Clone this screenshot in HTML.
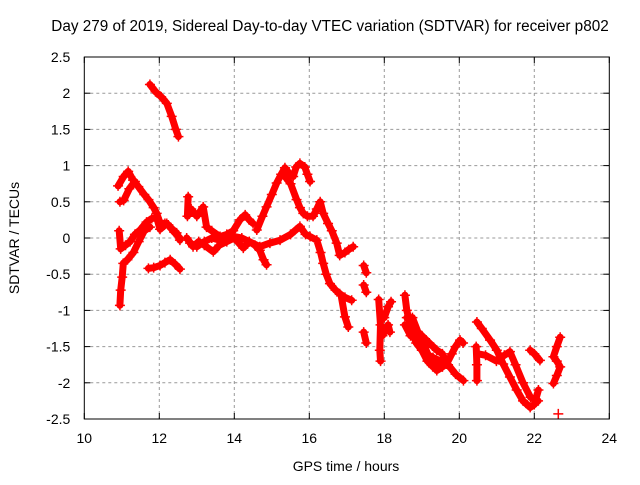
<!DOCTYPE html>
<html><head><meta charset="utf-8"><style>
body{margin:0;background:#fff;}
svg text{font-family:"Liberation Sans",sans-serif;font-size:14px;fill:#000;}
</style></head><body>
<svg id="chart" width="640" height="480" viewBox="0 0 640 480" xmlns="http://www.w3.org/2000/svg">
<rect width="640" height="480" fill="#fff"/>
<text x="330" y="31" text-anchor="middle" style="font-size:15.3px">Day 279 of 2019, Sidereal Day-to-day VTEC variation (SDTVAR) for receiver p802</text>
<g id="grid"></g><g id="marks"></g>
<rect x="84.3" y="57" width="525" height="362" fill="none" stroke="#000" stroke-width="1"/>
<g id="axes"></g>
<text x="346" y="471" text-anchor="middle">GPS time / hours</text>
<text transform="translate(19,238) rotate(-90)" text-anchor="middle">SDTVAR / TECUs</text>
</svg>
<script>
const xTicks=[10,12,14,16,18,20,22,24];
const yTicks=[2.5,2,1.5,1,0.5,0,-0.5,-1,-1.5,-2,-2.5];
const trackA=[[11.75,2.12],[11.9,2.02],[12.05,1.95],[12.2,1.86],[12.33,1.68],[12.44,1.5],[12.51,1.4]];
const trackB1=[[10.9,0.72],[11.05,0.85],[11.17,0.92],[11.3,0.8],[11.44,0.71],[11.6,0.6],[11.71,0.53],[11.85,0.42],[11.93,0.34],[12.02,0.21],[12.15,0.2],[12.24,0.18],[12.4,0.08],[12.55,0.0]];
const trackB2=[[10.95,0.5],[11.05,0.52],[11.2,0.68],[11.35,0.78]];
const trackC=[[10.93,0.1],[10.97,-0.15],[11.1,-0.1],[11.22,-0.05],[11.35,0.05],[11.49,0.11],[11.66,0.22],[11.8,0.27],[11.93,0.28],[12.02,0.12],[12.2,0.2],[12.35,0.12],[12.46,0.07],[12.55,-0.03]];
const trackC2=[[10.95,-0.93],[10.97,-0.72],[11.01,-0.54],[11.04,-0.35],[11.15,-0.3],[11.31,-0.2],[11.45,-0.05],[11.6,0.1],[11.75,0.15]];
const trackD=[[11.71,-0.42],[11.85,-0.41],[12.02,-0.38],[12.15,-0.34],[12.29,-0.3],[12.42,-0.36],[12.55,-0.43]];
const trackE=[[12.77,0.57],[12.75,0.3],[12.85,0.4],[13.0,0.3],[13.17,0.43],[13.26,0.15],[13.4,0.1],[13.62,0.02],[13.8,0.05],[13.97,0.1],[14.15,0.25],[14.29,0.32],[14.4,0.25],[14.5,0.2]];
const trackE2=[[12.73,0.0],[12.9,-0.12],[13.05,-0.05],[13.2,-0.1],[13.44,-0.19],[13.6,-0.1],[13.8,-0.05],[14.0,0.0],[14.24,-0.14],[14.4,-0.05],[14.55,-0.1],[14.68,-0.17],[14.78,-0.3],[14.86,-0.37]];
const trackF=[[14.6,0.11],[14.75,0.3],[14.86,0.43],[15.0,0.6],[15.13,0.76],[15.25,0.88],[15.35,0.97],[15.45,0.9],[15.57,0.85],[15.65,0.98],[15.75,1.03],[15.88,0.98],[15.95,0.88],[16.02,0.78]];
const trackF2=[[15.35,0.85],[15.5,0.75],[15.66,0.53],[15.75,0.42],[15.84,0.34],[15.95,0.3],[16.1,0.3],[16.2,0.4],[16.29,0.5],[16.37,0.34],[16.5,0.2],[16.6,0.1],[16.73,-0.07],[16.81,-0.24],[16.95,-0.2],[17.05,-0.16],[17.17,-0.12]];
const trackG=[[12.82,-0.07],[13.0,-0.12],[13.2,-0.05],[13.4,0.0],[13.62,-0.03],[13.8,0.0],[14.0,0.02],[14.2,0.0],[14.4,-0.05],[14.68,-0.12],[14.95,-0.07],[15.22,-0.03],[15.5,0.05],[15.75,0.16],[15.9,0.05],[16.02,0.02],[16.2,-0.03],[16.3,-0.2],[16.37,-0.35],[16.45,-0.5],[16.55,-0.63],[16.7,-0.72],[16.81,-0.77],[16.95,-0.82],[17.13,-0.86]];
const trackG2=[[16.85,-0.8],[16.95,-1.09],[17.04,-1.23]];
const trackH1=[[17.45,-0.38],[17.52,-0.48]];
const trackH2=[[17.45,-0.65],[17.52,-0.75]];
const trackH3=[[17.45,-1.3],[17.52,-1.45]];
const trackI1=[[17.85,-0.85],[17.9,-1.2],[17.88,-1.55],[17.9,-1.7]];
const trackI2=[[18.0,-1.1],[18.1,-0.95],[18.18,-0.88]];
const trackI3=[[17.95,-1.35],[18.1,-1.2],[18.15,-1.3]];
const trackJ=[[18.55,-0.79],[18.6,-1.0],[18.68,-1.18],[18.85,-1.3],[19.04,-1.46],[19.2,-1.65],[19.4,-1.83],[19.55,-1.78],[19.66,-1.74],[19.8,-1.6],[19.9,-1.5],[20.02,-1.41],[20.1,-1.45]];
const trackJ2=[[18.55,-1.2],[18.7,-1.35],[18.9,-1.4],[19.1,-1.6],[19.3,-1.65],[19.5,-1.7],[19.7,-1.75],[19.9,-1.88],[20.11,-1.97]];
const trackJ3=[[18.6,-1.1],[18.75,-1.1],[18.9,-1.3],[19.0,-1.35],[19.2,-1.45],[19.4,-1.55],[19.55,-1.6]];
const trackJ4=[[18.7,-1.25],[18.85,-1.45],[19.0,-1.55],[19.15,-1.7],[19.3,-1.78],[19.45,-1.72],[19.6,-1.65]];
const trackK=[[20.47,-1.16],[20.6,-1.25],[20.82,-1.41],[21.0,-1.55],[21.17,-1.74],[21.35,-1.92],[21.53,-2.1],[21.7,-2.25],[21.89,-2.34],[22.0,-2.3],[22.11,-2.1]];
const trackK2=[[20.45,-1.5],[20.47,-1.75],[20.47,-1.97]];
const trackK3=[[20.5,-1.6],[20.7,-1.62],[20.99,-1.7],[21.2,-1.62],[21.35,-1.57],[21.5,-1.75],[21.7,-2.0],[21.9,-2.2],[22.1,-2.25]];
const trackL=[[21.89,-1.55],[22.0,-1.6],[22.15,-1.69]];
const trackM=[[22.69,-1.37],[22.6,-1.5],[22.51,-1.64],[22.6,-1.7],[22.69,-1.78],[22.6,-1.9],[22.51,-2.01]];
const trackN=[[22.64,-2.43]];
const tracks=[trackA,trackB1,trackB2,trackC,trackC2,trackD,trackE,trackE2,trackF,trackF2,trackG,trackG2,trackH1,trackH2,trackH3,trackI1,trackI2,trackI3,trackJ,trackJ2,trackJ3,trackJ4,trackK,trackK2,trackK3,trackL,trackM,trackN];

const NS="http://www.w3.org/2000/svg";
const X0=84.3,X1=609.3,Y0=419,Y1=57;
function sx(t){return X0+(t-10)/(24-10)*(X1-X0);}
function sy(v){return Y0-(v+2.5)/5*(Y0-Y1);}
const grid=document.getElementById('grid'),axes=document.getElementById('axes'),marks=document.getElementById('marks');
function mk(tag,attrs,parent){const e=document.createElementNS(NS,tag);for(const k in attrs)e.setAttribute(k,attrs[k]);parent.appendChild(e);return e;}
xTicks.forEach(t=>{
  const x=sx(t);
  if(t>10&&t<24){const g=mk('line',{x1:x,x2:x,y1:Y1,y2:Y0,stroke:'#999','stroke-dasharray':'3,3'},grid);
  
  }
  mk('line',{x1:x,x2:x,y1:Y0,y2:Y0-6,stroke:'#000'},axes);
  mk('line',{x1:x,x2:x,y1:Y1,y2:Y1+6,stroke:'#000'},axes);
  const l=mk('text',{x:x,y:Y0+24,'text-anchor':'middle'},axes);l.textContent=t;
  
  
});
yTicks.forEach(v=>{
  const y=sy(v);
  if(v>-2.5&&v<2.5){const g=mk('line',{x1:X0,x2:X1,y1:y,y2:y,stroke:'#999','stroke-dasharray':'3,3'},grid);
  
  }
  mk('line',{x1:X0,x2:X0+6,y1:y,y2:y,stroke:'#000'},axes);
  mk('line',{x1:X1,x2:X1-6,y1:y,y2:y,stroke:'#000'},axes);
  const l=mk('text',{x:X0-14,y:y+5,'text-anchor':'end'},axes);l.textContent=v;
  
  
});
tracks.forEach(tr=>{
  const d=tr.map((p,i)=>(i?'L':'M')+sx(p[0]).toFixed(1)+','+sy(p[1]).toFixed(1)).join(' ');
  const p=mk('path',{d:d,fill:'none',stroke:'#f00','stroke-width':7,'stroke-linejoin':'round','stroke-linecap':'round'},marks);
  
  
  tr.forEach(pt=>{
    const x=sx(pt[0]),y=sy(pt[1]);
    const m=mk('path',{d:`M${x-5},${y}H${x+5}M${x},${y-5}V${y+5}`,stroke:'#f00','stroke-width':1.5},marks);
    
    
  });
});
</script>
</body></html>
